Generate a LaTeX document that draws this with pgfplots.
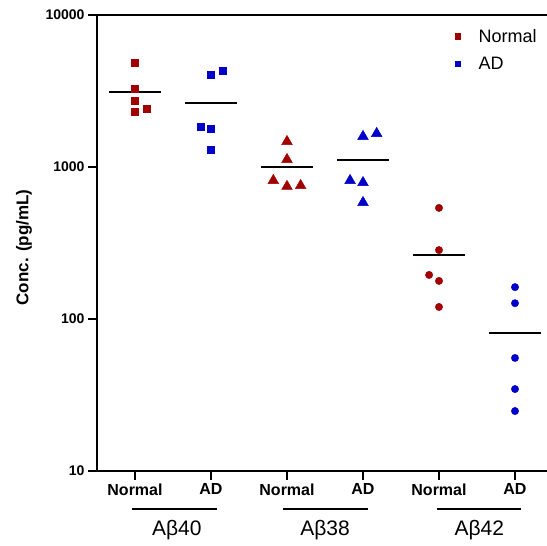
\documentclass[border=0pt]{standalone}
\usepackage{fontspec}
\setmainfont{Liberation Sans}
\usepackage{pgfplots}
\pgfplotsset{compat=1.18}
\definecolor{normalred}{RGB}{160,0,0}
\definecolor{adblue}{RGB}{0,0,200}

\begin{document}
\begin{tikzpicture}
\useasboundingbox (0,0) rectangle (547pt,546pt);
\begin{axis}[
    at={(97pt,75pt)}, anchor=south west,
    scale only axis, width=456pt, height=456pt,
    xmin=-0.5, xmax=5.5,
    ymode=log, ymin=10, ymax=10000,
    ytick={10,100,1000,10000}, yticklabels={10,100,1000,10000},
    yminorticks=false,
    xtick={0,1,2,3,4,5}, xticklabels={Normal,AD,Normal,AD,Normal,AD},
    xtick pos=bottom, ytick pos=left, tick align=outside,
    major tick length=9pt,
    axis line style={line width=1.8pt},
    tick style={line width=1.8pt, black},
    yticklabel style={font=\fontsize{14}{14}\selectfont\bfseries},
    xticklabel style={font=\fontsize{16}{16}\selectfont\bfseries},
    ylabel={Conc. (pg/mL)},
    ylabel style={at={(axis description cs:-0.16,0.49)}, anchor=center, font=\fontsize{17}{17}\selectfont\bfseries},
    legend style={at={(axis description cs:0.775,0.978)}, anchor=north west, draw=none, fill=none,
        font=\fontsize{18}{20}\selectfont, row sep=9pt},
    legend image code/.code={\path[draw=none, fill=none] (-4pt,0pt) rectangle (19pt,0pt); \draw[#1] plot coordinates {(0pt,0pt)};},
    legend cell align=left,
    clip=false,
]
% A-beta 40
\addplot[only marks, mark=square*, mark size=3.6pt, normalred, forget plot] coordinates {
    (0,4833) (0,3260) (0,2717) (0,2301) (0.15,2410)
};
\addplot[only marks, mark=square*, mark size=3.6pt, adblue, forget plot] coordinates {
    (1,4030) (1.15,4283) (0.86,1834) (1,1778) (1,1294)
};
% A-beta 38
\addplot[only marks, mark=triangle*, mark size=6.2pt, normalred, forget plot] coordinates {
    (2,1471) (2,1120) (1.82,815) (2,745) (2.18,755)
};
\addplot[only marks, mark=triangle*, mark size=6.2pt, adblue, forget plot] coordinates {
    (3,1588) (3.18,1661) (2.83,815) (3,790) (3,584)
};
% A-beta 42
\addplot[only marks, mark=*, mark size=3.7pt, normalred, forget plot] coordinates {
    (4,538) (4,284) (3.87,195) (4,178) (4,120)
};
\addplot[only marks, mark=*, mark size=3.7pt, adblue, forget plot] coordinates {
    (5,162) (5,127) (5,55.4) (5,34.6) (5,24.8)
};
% means
\addplot[black, line width=2pt, forget plot] coordinates {(-0.34,3110) (0.34,3110)};
\addplot[black, line width=2pt, forget plot] coordinates {(0.66,2640) (1.34,2640)};
\addplot[black, line width=2pt, forget plot] coordinates {(1.66,1000) (2.34,1000)};
\addplot[black, line width=2pt, forget plot] coordinates {(2.66,1112) (3.34,1112)};
\addplot[black, line width=2pt, forget plot] coordinates {(3.66,264) (4.34,264)};
\addplot[black, line width=2pt, forget plot] coordinates {(4.66,80.9) (5.34,80.9)};

\addlegendimage{only marks, mark=square*, mark size=2.8pt, normalred}
\addlegendentry{Normal}
\addlegendimage{only marks, mark=square*, mark size=2.8pt, adblue}
\addlegendentry{AD}

% group brackets
\draw[line width=1.6pt] ([yshift=-38pt]axis cs:-0.04,10) -- ([yshift=-38pt]axis cs:1.08,10);
\draw[line width=1.6pt] ([yshift=-38pt]axis cs:1.95,10) -- ([yshift=-38pt]axis cs:3.06,10);
\draw[line width=1.6pt] ([yshift=-38pt]axis cs:3.97,10) -- ([yshift=-38pt]axis cs:5.08,10);
\node[anchor=base, font=\fontsize{21}{21}\selectfont] at ([yshift=-65pt]axis cs:0.55,10) {Aβ40};
\node[anchor=base, font=\fontsize{21}{21}\selectfont] at ([yshift=-65pt]axis cs:2.5,10) {Aβ38};
\node[anchor=base, font=\fontsize{21}{21}\selectfont] at ([yshift=-65pt]axis cs:4.53,10) {Aβ42};
\end{axis}
\end{tikzpicture}
\end{document}
